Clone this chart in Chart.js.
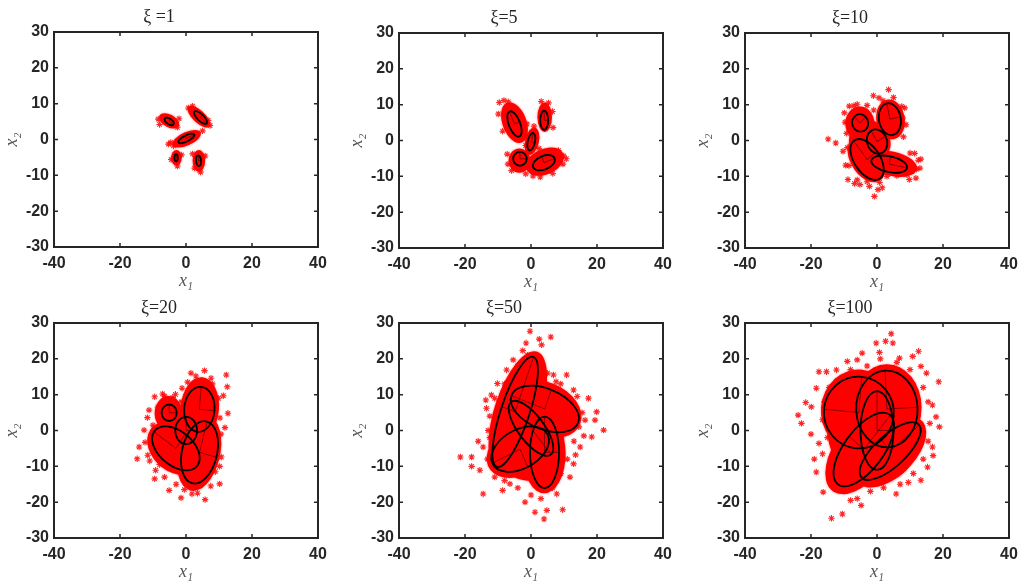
<!DOCTYPE html>
<html>
<head>
<meta charset="utf-8">
<script src="https://cdn.jsdelivr.net/npm/chart.js@4.4.1/dist/chart.umd.min.js"></script>
<style>
  html, body { margin: 0; padding: 0; background: #fff; overflow: hidden; }
  #wrap { position: relative; width: 1019px; height: 584px; }
  #wrap canvas { position: absolute; }
</style>
</head>
<body>
<div id="wrap"></div>
<script>
// axis ticks shared by all six panels
const xTickValues = [-40, -20, 0, 20, 40];
const yTickValues = [-30, -20, -10, 0, 10, 20, 30];
const titles = ['ξ =1', 'ξ=5', 'ξ=10', 'ξ=20', 'ξ=50', 'ξ=100'];

// fitted components: [centre x1, centre x2, semi-axis a, semi-axis b, angle of a (deg)]
const ellipses1 = [[-5.1, 5.05, 1.55, 0.8, -33], [4.4, 6.15, 2.5, 0.95, -41], [0.1, 0.3, 2.65, 0.85, 25], [-3.0, -5.1, 0.5, 1.0, 0], [3.8, -5.9, 0.75, 1.5, 5]];
const ellipses2 = [[-5.0, 4.6, 1.7, 3.8, 23.5], [4.0, 5.65, 1.2, 2.65, 0], [0.1, -0.35, 1.1, 2.5, -14], [-3.35, -5.1, 2.05, 1.95, 0], [3.9, -6.2, 3.5, 1.9, 20]];
const ellipses3 = [[-5.1, 4.9, 2.4, 2.5, 45], [3.9, 5.95, 3.3, 4.5, 12], [0.0, -0.3, 3.0, 3.5, 30], [-3.0, -5.3, 3.8, 6.6, 38], [3.7, -6.6, 5.5, 2.2, -11]];
const ellipses4 = [[-5.1, 4.95, 2.3, 2.3, 0], [4.05, 5.9, 4.6, 6.3, -5], [0.05, 0.0, 3.3, 3.8, 0], [-3.05, -5.0, 4.9, 8.1, 55], [4.1, -6.1, 5.3, 8.9, -15]];
const ellipses5 = [[-4.8, 5.2, 16.3, 4.3, 70], [4.2, 6.0, 5.7, 10.8, 70], [0.0, 0.6, 9.5, 3.8, -50], [-3.3, -5.2, 9.3, 5.5, 205], [4.1, -6.1, 4.4, 10.0, 0]];
const ellipses6 = [[-5.5, 5.0, 10.0, 10.6, 85], [3.0, 6.0, 9.3, 10.7, 3], [0.0, 0.0, 5.0, 11.0, 0], [-4.0, -5.3, 12.5, 5.8, 50], [4.0, -5.75, 11.4, 4.5, 39.5]];

// dense part of each sample cloud, same layout as the ellipses
const cloud1 = [[-5.1, 5.2, 3.3, 1.8, -25], [3.9, 6.4, 4.2, 1.8, -40], [0.2, 0.2, 4.6, 1.9, 22], [-2.9, -5.1, 1.6, 2.2, 0], [3.9, -5.95, 1.9, 3.05, 0]];
const cloud2 = [[-5.0, 5.0, 3.6, 6.0, 23.5], [4.15, 6.5, 2.2, 4.1, 0], [0.3, -0.2, 2.1, 3.9, -14], [-3.5, -5.6, 3.3, 3.4, 0], [4.2, -5.9, 6.0, 3.6, 20]];
const cloud3 = [[-5.2, 4.8, 4.4, 4.7, 0], [4.1, 5.9, 4.3, 5.6, 12], [0.0, -0.5, 4.0, 4.5, 30], [-3.2, -5.3, 4.6, 7.2, 38], [4.5, -6.5, 7.8, 3.4, -11], [-3.0, 0.0, 5.5, 6.0, 0]];
const cloud4 = [[-5.3, 4.8, 4.2, 4.8, 0], [4.2, 6.3, 5.8, 8.6, -5], [0.0, 0.0, 4.5, 4.5, 0], [-3.5, -5.0, 6.5, 9.0, 55], [4.0, -6.3, 6.3, 10.8, -15], [-1.0, -2.0, 8.0, 9.0, 0]];
const cloud5 = [[-4.0, 5.5, 17.5, 7.0, 70], [4.2, 6.0, 7.5, 11.5, 70], [0.0, 0.0, 11.0, 6.0, -50], [-3.5, -5.5, 10.5, 7.0, 25], [4.0, -6.5, 6.5, 11.0, 0], [-1.0, 0.0, 11.0, 14.0, 0]];
const cloud6 = [[-5.5, 5.5, 11.5, 11.5, 85], [3.0, 6.5, 10.5, 12.0, 0], [0.0, 0.0, 8.0, 12.0, 0], [-4.5, -5.5, 14.5, 8.0, 50], [4.0, -6.0, 13.0, 7.0, 40], [-1.0, 0.0, 14.0, 15.0, 20]];

// loose samples around the dense clouds
const stray1 = [[-5.3, -1.3], [-4.6, -0.8], [-8.4, 5.7], [-8.0, 4.2], [-2.1, 5.8], [-2.6, 3.4], [0.7, 8.8], [2.0, 9.3], [7.3, 3.9], [6.7, 5.3], [5.0, 2.4], [-3.8, -1.8], [-4.5, -5.6], [-1.4, -4.3], [-2.6, -7.4], [2.0, -4.0], [5.8, -4.6], [4.4, -9.1], [2.6, -8.0]];
const stray2 = [[-9.6, 10.6], [-8.2, 11.2], [-6.9, 10.8], [-9.9, 7.4], [-8.6, 2.6], [-4.3, 0.3], [-2.3, 2.9], [-1.2, 4.6], [0.9, 4.0], [3.1, 10.9], [5.3, 10.5], [6.5, 8.1], [6.7, 3.6], [-7.2, -3.8], [-7.0, -6.6], [-5.9, -8.4], [-1.6, -9.3], [0.6, -9.9], [2.8, -10.2], [6.6, -9.2], [8.3, -2.8], [9.9, -4.3], [10.7, -5.1], [9.7, -6.6], [-1.6, -1.4], [2.4, -2.2]];
const stray3 = [[-14.8, 0.4], [-12.5, -0.7], [-10.3, -3.0], [-9.7, 5.1], [-9.9, 7.7], [-8.4, 9.6], [-6.0, 10.1], [-1.1, 12.5], [0.6, 11.9], [1.8, 11.1], [3.5, 14.2], [7.8, 6.3], [8.8, 4.4], [8.4, 9.1], [-0.8, -15.6], [0.3, -13.7], [1.6, -13.2], [0.8, -11.7], [-2.3, -12.8], [-5.2, -12.3], [-6.8, -12.0], [-8.8, -10.9], [9.8, -10.9], [11.8, -10.5], [13.0, -7.7], [13.3, -5.2], [11.4, -3.6], [-9.5, -6.9],
  [-9.2, 2.0], [-9.0, -2.0], [-8.5, -7.0], [-6.0, -11.0], [-3.0, -11.5], [0.0, -10.5], [3.0, -10.0], [6.0, -9.8], [9.0, -9.5], [12.0, -8.0], [12.5, -5.5], [10.0, -3.5], [8.0, 1.0], [7.5, 9.5], [5.0, 12.0], [1.5, 9.0], [-1.0, 8.5], [-3.0, 9.8], [-7.0, 9.7]];
const stray4 = [[-14.8, -7.9], [-14.2, -4.6], [-12.7, 0.1], [-11.7, 3.6], [-11.2, 5.7], [-9.5, 9.4], [-7.1, 10.2], [-9.5, -13.5], [-9.2, -11.1], [-5.1, -16.7], [-1.5, -18.8], [1.8, -17.7], [5.8, -19.3], [10.2, -14.9], [10.7, -7.4], [9.7, -3.6], [12.7, 4.8], [11.3, 9.7], [12.5, 12.2], [12.2, 15.5], [7.6, 14.6], [5.6, 16.7], [1.5, 16.0], [-1.2, 11.8], [-3.2, 10.1], [8.9, -11.5], [-11.6, -6.9],
  [-10.5, -3.0], [-11.0, -8.5], [-10.0, 1.5], [-8.5, 6.5], [-6.5, 9.6], [-4.0, 9.2], [-1.5, 8.0], [0.5, 13.5], [3.0, 15.2], [8.0, 13.0], [9.8, 9.0], [10.3, 3.5], [10.6, -1.0], [10.2, -10.0], [7.5, -15.5], [3.5, -17.5], [-0.5, -16.5], [-3.0, -15.0], [-6.5, -13.0], [-8.0, -9.5], [11.8, 0.8], [-12.4, -3.3]];
const stray5 = [[-0.3, 27.7], [2.5, 25.5], [3.2, 23.9], [6.0, 26.1], [-1.5, 24.4], [-2.5, 22.3], [-5.4, 19.7], [-7.4, 16.9], [6.8, 15.5], [7.6, 13.6], [10.8, 15.5], [12.9, 11.3], [17.4, 9.0], [19.9, 5.2], [19.4, 2.9], [16.4, 2.9], [22.0, 0.1], [18.4, -1.8], [14.9, -4.6], [12.9, -9.3], [11.8, -13.0], [9.6, -22.1], [7.8, -17.7], [4.8, -22.3], [3.95, -24.7], [1.2, -22.8], [-1.8, -20.0], [-6.4, -14.9], [-8.6, -16.7], [-14.5, -17.7], [-15.5, -11.1], [-18.0, -10.0], [-18.0, -7.4], [-21.4, -7.4], [-14.5, -4.6], [-13.5, 6.2], [-13.7, 8.5], [-12.0, 9.9], [-7.4, 10.4], [-10.2, 13.1], [13.5, -6.8],
  [-12.5, -2.0], [-13.2, -8.0], [-11.0, -13.0], [-8.0, -14.0], [-4.0, -16.0], [0.0, -18.0], [3.0, -19.0], [6.5, -16.0], [9.0, -12.0], [11.0, -8.0], [13.0, -3.0], [14.5, 1.0], [15.5, 5.0], [14.0, 9.5], [9.0, 13.0], [5.0, 16.0], [2.0, 19.0], [-1.0, 21.0], [-4.0, 18.0], [-8.0, 13.0], [-11.0, 9.0], [-12.5, 4.0], [-13.0, 0.0], [16.0, -1.5], [-16.0, -3.0]];
const stray6 = [[4.3, 27.0], [2.6, 24.9], [4.8, 24.4], [-0.25, 24.4], [0.75, 21.8], [6.8, 20.2], [-4.5, 21.6], [-6.0, 19.7], [-9.0, 19.3], [-12.3, 16.9], [-15.3, 16.4], [-17.6, 16.4], [-18.4, 11.8], [-21.6, 7.8], [-19.9, 6.6], [-23.9, 4.3], [-22.9, 2.0], [-17.6, -3.6], [-18.4, -11.6], [-16.3, -17.2], [-13.8, -24.5], [-10.5, -23.3], [-4.8, -20.9], [5.8, -17.7], [13.3, -13.9], [15.3, -10.2], [16.8, -4.6], [18.9, 1.0], [17.9, 3.8], [16.8, 7.1], [18.7, 13.6], [13.3, 17.9], [12.6, 22.1], [10.8, 20.7], [-16.5, -6.5], [-8.0, -19.5], [9.5, -14.5],
  [-16.0, 8.0], [-16.5, 3.0], [-15.0, -2.0], [-14.0, -8.0], [-13.0, -13.0], [-10.0, -17.0], [-6.0, -19.0], [-2.0, -17.0], [2.0, -16.0], [7.0, -15.0], [11.0, -12.0], [14.0, -8.0], [15.5, -3.0], [16.0, 2.0], [15.5, 8.0], [14.0, 12.0], [10.0, 17.0], [6.0, 19.0], [1.0, 20.0], [-3.0, 18.0], [-8.0, 17.0], [-12.0, 14.0], [-14.5, 12.0], [-20.0, -1.0], [-19.0, -8.0], [17.0, -7.0], [15.0, 16.0]];

const panels = [
  { title: titles[0], ellipses: ellipses1, cloud: cloud1, stray: stray1 },
  { title: titles[1], ellipses: ellipses2, cloud: cloud2, stray: stray2 },
  { title: titles[2], ellipses: ellipses3, cloud: cloud3, stray: stray3 },
  { title: titles[3], ellipses: ellipses4, cloud: cloud4, stray: stray4 },
  { title: titles[4], ellipses: ellipses5, cloud: cloud5, stray: stray5 },
  { title: titles[5], ellipses: ellipses6, cloud: cloud6, stray: stray6 }
];

// plot-area placement on the page
const plotLefts = [54, 399, 745];
const plotTops = [[32, 33, 33], [323, 323, 323]];
const PLOT_W = 264, PLOT_H = 215;
const PAD_L = 54, PAD_T = 32, PAD_R = 10, PAD_B = 45;

const INK = '#262626';
const tickFont = { family: "'Liberation Sans', Arial, sans-serif", size: 16, weight: 'bold' };

// build an ellipse path in data units, mapped through the chart scales
function ellipsePath(ctx, chart, e) {
  const sx = chart.scales.x, sy = chart.scales.y;
  const kx = sx.getPixelForValue(1) - sx.getPixelForValue(0);
  const ky = sy.getPixelForValue(1) - sy.getPixelForValue(0);
  ctx.save();
  ctx.translate(sx.getPixelForValue(e[0]), sy.getPixelForValue(e[1]));
  ctx.scale(kx, ky);
  ctx.rotate(e[4] * Math.PI / 180);
  ctx.beginPath();
  ctx.ellipse(0, 0, e[2], e[3], 0, 0, Math.PI * 2);
  ctx.restore();
}

const gmmPlugin = {
  id: 'gmm',
  beforeDatasetsDraw(chart, args, opts) {
    const ctx = chart.ctx;
    const a = chart.chartArea;
    ctx.save();
    ctx.beginPath();
    ctx.rect(a.left, a.top, a.right - a.left, a.bottom - a.top);
    ctx.clip();
    ctx.fillStyle = '#ff0000';
    ctx.shadowColor = 'rgba(255,0,0,0.5)';
    ctx.shadowBlur = 2.5;
    opts.cloud.forEach(c => { ellipsePath(ctx, chart, c); ctx.fill(); });
    ctx.restore();
  },
  afterDatasetsDraw(chart, args, opts) {
    const ctx = chart.ctx;
    const sx = chart.scales.x, sy = chart.scales.y;
    ctx.save();
    // principal axes
    ctx.strokeStyle = '#3a0000';
    ctx.lineWidth = 0.6;
    opts.ellipses.forEach(e => {
      const t = e[4] * Math.PI / 180;
      const cx = sx.getPixelForValue(e[0]), cy = sy.getPixelForValue(e[1]);
      ctx.beginPath();
      ctx.moveTo(sx.getPixelForValue(e[0] + e[2] * Math.cos(t)), sy.getPixelForValue(e[1] + e[2] * Math.sin(t)));
      ctx.lineTo(cx, cy);
      ctx.lineTo(sx.getPixelForValue(e[0] - e[3] * Math.sin(t)), sy.getPixelForValue(e[1] + e[3] * Math.cos(t)));
      ctx.stroke();
    });
    // ellipse outlines
    ctx.strokeStyle = '#000';
    ctx.lineWidth = 1.8;
    opts.ellipses.forEach(e => { ellipsePath(ctx, chart, e); ctx.stroke(); });
    ctx.restore();
  },
  afterDraw(chart) {
    const ctx = chart.ctx;
    const { left, top, right, bottom } = chart.chartArea;
    const sx = chart.scales.x, sy = chart.scales.y;
    ctx.save();
    ctx.strokeStyle = INK;
    ctx.lineWidth = 2;
    ctx.strokeRect(left, top, right - left, bottom - top);
    ctx.lineWidth = 1.5;
    ctx.beginPath();
    xTickValues.forEach(v => {
      const p = sx.getPixelForValue(v);
      ctx.moveTo(p, bottom); ctx.lineTo(p, bottom - 4);
      ctx.moveTo(p, top); ctx.lineTo(p, top + 4);
    });
    yTickValues.forEach(v => {
      const p = sy.getPixelForValue(v);
      ctx.moveTo(left, p); ctx.lineTo(left + 4, p);
      ctx.moveTo(right, p); ctx.lineTo(right - 4, p);
    });
    ctx.stroke();
    ctx.restore();
  }
};

const wrap = document.getElementById('wrap');

panels.forEach((p, i) => {
  const row = Math.floor(i / 3), col = i % 3;
  const canvas = document.createElement('canvas');
  const w = PLOT_W + PAD_L + PAD_R, h = PLOT_H + PAD_T + PAD_B;
  canvas.width = w; canvas.height = h;
  canvas.style.width = w + 'px'; canvas.style.height = h + 'px';
  canvas.style.left = (plotLefts[col] - PAD_L) + 'px';
  canvas.style.top = (plotTops[row][col] - PAD_T) + 'px';
  wrap.appendChild(canvas);

  new Chart(canvas.getContext('2d'), {
    type: 'scatter',
    data: {
      datasets: [{
        data: p.stray.map(([x, y]) => ({ x, y })),
        pointStyle: 'star',
        pointRadius: 3.2,
        borderColor: 'rgba(255,0,0,0.85)',
        backgroundColor: 'rgba(255,0,0,0.85)',
        borderWidth: 1.1
      }]
    },
    options: {
      responsive: false,
      animation: false,
      devicePixelRatio: 1,
      layout: { padding: { left: 0, right: PAD_R, top: 0, bottom: 0 } },
      plugins: {
        legend: { display: false },
        tooltip: { enabled: false },
        title: {
          display: true,
          text: p.title,
          color: INK,
          font: { family: "'Liberation Serif', 'Times New Roman', serif", size: 18, weight: 'normal', lineHeight: 1 },
          padding: { top: 8, bottom: 6 }
        },
        gmm: { ellipses: p.ellipses, cloud: p.cloud }
      },
      scales: {
        x: {
          type: 'linear', position: 'bottom', min: -40, max: 40,
          afterBuildTicks: s => { s.ticks = xTickValues.map(v => ({ value: v })); },
          afterFit: s => { s.height = PAD_B; s.paddingLeft = 0; s.paddingRight = 0; },
          ticks: { color: INK, font: tickFont, padding: 7, maxRotation: 0, autoSkip: false },
          grid: { display: false, drawTicks: false },
          border: { display: false },
          title: {
            display: true, text: 'x₁', color: '#555',
            font: { family: "'Liberation Serif', 'DejaVu Serif', serif", style: 'italic', size: 18, lineHeight: 1 },
            padding: { top: 0, bottom: 2 }
          }
        },
        y: {
          type: 'linear', position: 'left', min: -30, max: 30,
          afterBuildTicks: s => { s.ticks = yTickValues.map(v => ({ value: v })); },
          afterFit: s => { s.width = PAD_L; s.paddingTop = 0; s.paddingBottom = 0; },
          ticks: { color: INK, font: tickFont, padding: 5, autoSkip: false },
          grid: { display: false, drawTicks: false },
          border: { display: false },
          title: {
            display: true, text: 'x₂', color: '#555',
            font: { family: "'Liberation Serif', 'DejaVu Serif', serif", style: 'italic', size: 18, lineHeight: 1 },
            padding: { top: 3, bottom: 0 }
          }
        }
      }
    },
    plugins: [gmmPlugin]
  });
});
</script>
</body>
</html>
